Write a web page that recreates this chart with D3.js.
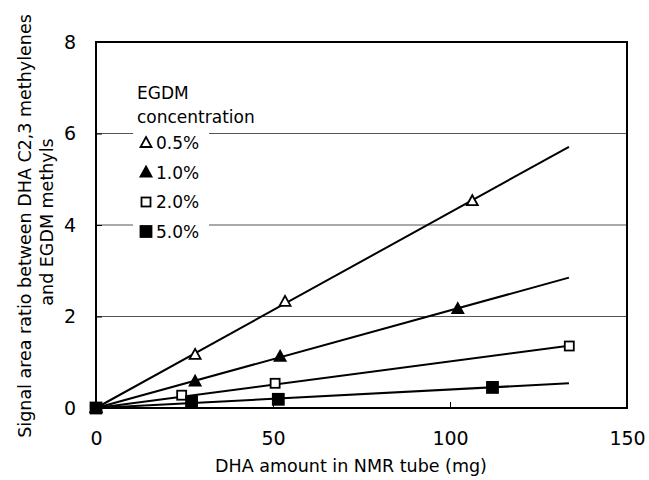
<!DOCTYPE html>
<html><head><meta charset="utf-8">
<script src="https://cdn.jsdelivr.net/npm/d3@7"></script>
<style>body{margin:0;background:#fff}svg{display:block;font-family:"DejaVu Sans",Arial,sans-serif}</style>
</head><body><svg id="c" width="649" height="480"></svg>
<script>
const seriesNames = ["0.5%", "1.0%", "2.0%", "5.0%"];
const markerTypes = ["triOpen", "triFilled", "sqOpen", "sqFilled"];
const xVals = [
  [0, 28, 53.4, 106.3],
  [0, 28, 52, 102.2],
  [0, 24.2, 50.6, 133.7],
  [0, 27, 51.5, 112]
];
const yVals = [
  [0, 1.16, 2.32, 4.52],
  [0, 0.575, 1.12, 2.16],
  [0, 0.28, 0.54, 1.355],
  [0, 0.14, 0.19, 0.45]
];
const lineEndX = 133.6;
const lineEndY = [5.71, 2.85, 1.36, 0.54];
const xTicks = [0, 50, 100, 150];
const yTicks = [0, 2, 4, 6, 8];
const gridY = [2, 4, 6];

const FONT = "'DejaVu Sans', Arial, sans-serif";
const svg = d3.select("#c");
const L = 96, R = 627, T = 42, B = 408;
const x = d3.scaleLinear().domain([0, 150]).range([L, R]);
const y = d3.scaleLinear().domain([0, 8]).range([B, T]);

// gridlines
svg.append("g").selectAll("line").data(gridY).join("line")
  .attr("x1", L).attr("x2", R).attr("y1", d => y(d)).attr("y2", d => y(d))
  .attr("stroke", "#555").attr("stroke-width", 1);

// axes with inner ticks
const xAxis = svg.append("g").attr("transform", `translate(0,${B})`)
  .call(d3.axisBottom(x).tickValues(xTicks).tickSize(-6).tickPadding(24));
const yAxis = svg.append("g").attr("transform", `translate(${L},0)`)
  .call(d3.axisLeft(y).tickValues(yTicks).tickSize(-6).tickPadding(20));
[xAxis, yAxis].forEach(g => {
  g.select(".domain").remove();
  g.selectAll("line").attr("stroke", "#000").attr("stroke-width", 1);
  g.selectAll("text").attr("font-size", 19).attr("fill", "#000").attr("font-family", FONT);
});

// frame
svg.append("rect").attr("x", L).attr("y", T).attr("width", R - L).attr("height", B - T)
  .attr("fill", "none").attr("stroke", "#000").attr("stroke-width", 2);

// legend background
svg.append("rect").attr("x", 133).attr("y", 80).attr("width", 76).attr("height", 165).attr("fill", "#fff");

// regression lines
svg.append("g").selectAll("line").data(lineEndY).join("line")
  .attr("x1", x(0)).attr("y1", y(0)).attr("x2", x(lineEndX)).attr("y2", d => y(d))
  .attr("stroke", "#000").attr("stroke-width", 2);

function marker(g, type, cx, cy) {
  if (type.startsWith("tri")) {
    const s = 11, h = 10;
    g.append("path").attr("d", `M${cx},${cy - h * 0.6}L${cx + s / 2},${cy + h * 0.4}L${cx - s / 2},${cy + h * 0.4}Z`)
      .attr("fill", type === "triFilled" ? "#000" : "#fff").attr("stroke", "#000").attr("stroke-width", 1.8);
  } else {
    const s = type === "sqFilled" ? 11 : 9;
    g.append("rect").attr("x", cx - s / 2).attr("y", cy - s / 2).attr("width", s).attr("height", s)
      .attr("fill", type === "sqFilled" ? "#000" : "#fff").attr("stroke", "#000").attr("stroke-width", 1.8);
  }
}

const mg = svg.append("g");
seriesNames.forEach((n, i) => {
  xVals[i].forEach((xv, j) => marker(mg, markerTypes[i], x(xv), y(yVals[i][j])));
});

// legend
const lg = svg.append("g").attr("font-size", 17).attr("fill", "#000");
lg.append("text").attr("x", 137).attr("y", 99).text("EGDM");
lg.append("text").attr("x", 137).attr("y", 123).text("concentration");
seriesNames.forEach((n, i) => {
  const yy = 143 + i * 29.5;
  marker(lg, markerTypes[i], 146, yy);
  lg.append("text").attr("x", 156).attr("y", yy + 6).text(n);
});

// axis titles
svg.append("text").attr("x", 351).attr("y", 472).attr("text-anchor", "middle")
  .attr("font-size", 17.5).text("DHA amount in NMR tube (mg)");
svg.append("text").attr("transform", "translate(31,226) rotate(-90)").attr("text-anchor", "middle")
  .attr("font-size", 17.5).text("Signal area ratio between DHA C2,3 methylenes");
svg.append("text").attr("transform", "translate(53,222) rotate(-90)").attr("text-anchor", "middle")
  .attr("font-size", 17.5).text("and EGDM methyls");
</script></body></html>
